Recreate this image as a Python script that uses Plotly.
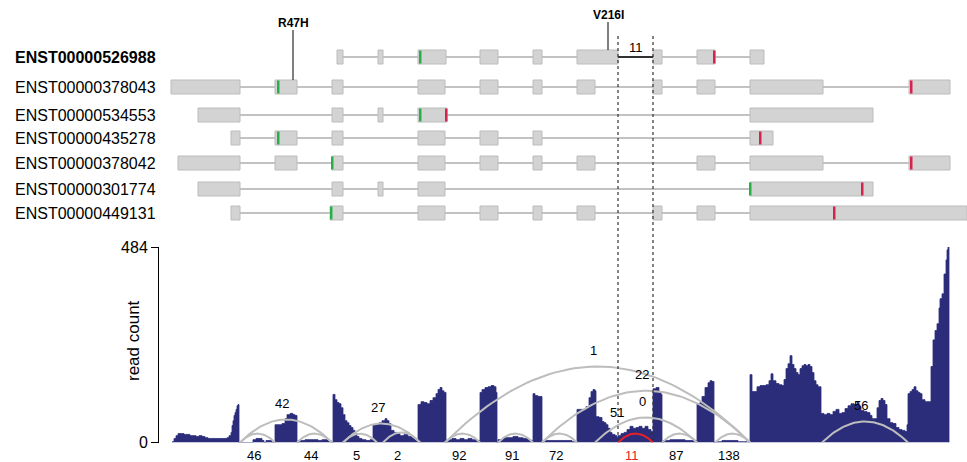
import numpy as np
import plotly.graph_objects as go

FONT = "Arial, Liberation Sans, sans-serif"

# ---------------- transcript models (genomic position units) ----------------
transcripts = ["ENST00000526988", "ENST00000378043", "ENST00000534553",
               "ENST00000435278", "ENST00000378042", "ENST00000301774",
               "ENST00000449131"]
ex_526988 = [(337, 343), (378, 383), (418, 446), (480, 498), (533, 542),
             (577, 618), (653, 662), (697, 715), (750, 764)]
ex_378043 = [(171, 240), (275, 297), (332, 343), (418, 445), (480, 498),
             (533, 542), (577, 595), (653, 662), (697, 715), (750, 823), (909, 950)]
ex_534553 = [(198, 240), (332, 343), (378, 383), (418, 447), (750, 873)]
ex_435278 = [(231, 240), (275, 297), (332, 343), (418, 445), (480, 498),
             (533, 542), (750, 773)]
ex_378042 = [(178, 240), (275, 297), (332, 343), (418, 445), (480, 498),
             (533, 542), (577, 595), (697, 715), (750, 823), (909, 950)]
ex_301774 = [(198, 240), (332, 343), (378, 383), (418, 445), (750, 873)]
ex_449131 = [(231, 240), (330, 343), (418, 445), (480, 498), (533, 542),
             (577, 595), (653, 662), (697, 715), (750, 967)]
exon_sets = [ex_526988, ex_378043, ex_534553, ex_435278, ex_378042, ex_301774, ex_449131]
start_codon = [420, 278, 420, 278, 332, 750, 331]
stop_codon = [714, 911, 446, 760, 911, 862, 834]

variants = ["R47H", "V216I"]
variant_pos = [293, 608]
variant_row = [1, 0]

junction_pos = (618, 653)
junction_label = "11"

# ---------------- coverage ----------------
cov_pos = [172, 174, 176, 178, 181, 184, 187, 190, 193, 196, 199, 202, 205, 208, 212, 216, 220, 224,
           227, 229, 231, 232, 233, 234, 235, 236, 237, 238, 239,
           253, 256, 259, 262, 264, 266, 270, 272,
           275, 279, 282, 285, 287, 290, 293, 295, 297,
           298, 305, 312, 318, 322, 328, 331,
           333, 335, 337, 339, 341, 343, 345, 347, 349, 351, 353, 355, 357, 359, 362, 366, 370,
           373, 376, 379, 382, 385, 387, 389, 391, 394, 397, 400, 404, 408, 412, 415,
           418, 421, 424, 427, 430, 433, 436, 438, 440, 442, 444, 446,
           447, 452, 456, 460, 464, 468, 472, 476,
           480, 482, 485, 488, 491, 494, 496, 497,
           498, 503, 508, 513, 518, 523, 528, 531,
           533, 535, 538, 540, 542,
           543, 550, 558, 565, 572,
           577, 580, 583, 586, 589, 591, 593, 595, 596, 599, 602, 604, 606, 608, 610, 612, 615, 617,
           618, 621, 624, 627, 630, 633, 636, 639, 642, 645, 648, 651,
           653, 656, 659, 661, 662,
           663, 670, 678, 685, 692,
           697, 700, 702, 705, 708, 710, 712, 714,
           715, 722, 730, 738, 745,
           750, 752, 755, 757, 760, 763, 766, 769, 771, 773,
           776, 779, 782, 784, 786, 788, 790, 792, 794, 796,
           798, 800, 802, 804, 806, 808, 810, 812, 814, 816,
           818, 821, 824, 827, 830, 833, 836, 839, 842, 845,
           848, 851, 854, 857, 859, 861, 864, 867, 870, 872,
           875, 877, 879, 881, 883, 885, 887, 890, 893, 896,
           899, 902, 905, 907, 908, 910, 912, 914, 916, 918,
           920, 922, 925, 928, 930, 931, 933, 935, 937, 939,
           940, 942, 944, 946, 947, 948, 949]
cov_val = [2, 10, 17, 22, 22, 20, 20, 17, 17, 15, 17, 15, 12, 10, 10, 10, 10, 10,
           12, 17, 25, 42, 54, 67, 74, 82, 91, 94, 0,
           7, 10, 10, 5, 0, 5, 5, 0,
           44, 44, 47, 59, 69, 72, 69, 67, 0,
           5, 7, 7, 5, 7, 5, 0,
           119, 106, 99, 96, 86, 69, 54, 49, 42, 37, 30, 22, 15, 10, 7, 5, 7,
           44, 47, 49, 54, 59, 54, 47, 30, 25, 22, 17, 20, 15, 12, 7,
           94, 101, 99, 96, 104, 111, 121, 131, 136, 128, 124, 0,
           7, 10, 7, 10, 7, 10, 7, 5,
           124, 131, 136, 138, 141, 138, 124, 0,
           7, 12, 12, 15, 12, 10, 7, 5,
           121, 116, 114, 114, 0,
           5, 5, 5, 5, 2,
           82, 82, 82, 89, 111, 126, 131, 128, 64, 62, 52, 49, 44, 35, 25, 20, 17, 12,
           17, 22, 25, 32, 40, 35, 37, 40, 35, 40, 32, 27,
           133, 136, 124, 119, 0,
           5, 7, 7, 5, 5,
           96, 99, 114, 136, 148, 153, 151, 0,
           2, 5, 5, 2, 2,
           168, 126, 126, 138, 141, 141, 143, 153, 170, 153,
           146, 143, 141, 156, 183, 195, 215, 193, 183, 173,
           168, 183, 190, 193, 190, 193, 188, 173, 153, 143,
           138, 72, 69, 72, 69, 77, 82, 72, 74, 84,
           91, 96, 94, 101, 89, 79, 77, 74, 67, 59,
           59, 86, 104, 109, 104, 94, 59, 49, 47, 37,
           32, 30, 27, 44, 121, 126, 131, 138, 128, 124,
           121, 106, 101, 101, 101, 188, 254, 277, 294, 333,
           356, 368, 417, 452, 477, 484, 0]
y_max = 484

# ---------------- splice junction arcs ----------------
arc_start = [240, 240, 297, 343, 343, 383, 445, 498, 445, 542, 542, 595, 662, 715, 822, 618]
arc_end = [275, 332, 332, 377, 420, 420, 480, 533, 750, 577, 750, 697, 697, 750, 908, 653]
arc_height = [22, 57, 22, 22, 47, 25, 22, 22, 188, 22, 128, 62, 22, 22, 52, 22]
arc_label = ["46", "42", "44", "5", "27", "2", "92", "91", "1", "72", "22", "0", "87", "138", "56", "11"]
arc_label_side = ["below", "above", "below", "below", "above", "below", "below", "below",
                  "above", "below", "above", "above", "below", "below", "above", "below"]
arc_highlight = [False] * 15 + [True]
extra_label = "51"
extra_label_pos = (617, 412)

# ---------------- layout constants (pixels) ----------------
W, H = 967, 462
row_y = [57, 87, 115, 138, 163, 189, 213]
half_h = 7
base_px, top_px = 442.5, 247
EXON_FILL, EXON_LINE, INTRON = "#d3d3d3", "#bcbcbc", "#c2c2c2"
GREEN, RED = "#27b04a", "#d6224f"
NAVY = "#2b2d7b"

fig = go.Figure()
shapes = []
annotations = []

# transcripts
for i, (name, exs) in enumerate(zip(transcripts, exon_sets)):
    y = row_y[i]
    shapes.append(dict(type="line", xref="x", yref="y", x0=exs[0][0], x1=exs[-1][1], y0=y, y1=y,
                       line=dict(color=INTRON, width=2), layer="below"))
    for s, e in exs:
        shapes.append(dict(type="rect", xref="x", yref="y", x0=s, x1=e, y0=y - half_h, y1=y + half_h,
                           fillcolor=EXON_FILL, line=dict(color=EXON_LINE, width=1), layer="below"))
    for pos, col in ((start_codon[i], GREEN), (stop_codon[i], RED)):
        shapes.append(dict(type="rect", xref="x", yref="y", x0=pos - 1, x1=pos + 1.5,
                           y0=y - half_h + 0.5, y1=y + half_h - 0.5, fillcolor=col, line=dict(width=0)))
    annotations.append(dict(x=13, y=y, xref="x", yref="y", text=f"<b>{name}</b>" if i == 0 else name,
                            showarrow=False, xanchor="left", yanchor="middle",
                            font=dict(family=FONT, size=16, color="black")))

# variant markers
for lab, pos, r in zip(variants, variant_pos, variant_row):
    top = row_y[r] - half_h
    stem_top = top - 28 if r == 0 else top - 50
    shapes.append(dict(type="line", xref="x", yref="y", x0=pos, x1=pos, y0=stem_top,
                       y1=top, line=dict(color="black", width=1)))
    annotations.append(dict(x=pos, y=stem_top - 7, xref="x", yref="y",
                            text=f"<b>{lab}</b>", showarrow=False, yanchor="middle",
                            font=dict(family=FONT, size=12, color="black")))

# highlighted junction in top transcript
shapes.append(dict(type="line", xref="x", yref="y", x0=junction_pos[0], x1=junction_pos[1],
                   y0=row_y[0], y1=row_y[0], line=dict(color="black", width=1.5)))
annotations.append(dict(x=sum(junction_pos) / 2, y=row_y[0] - 10, xref="x", yref="y", text=junction_label,
                        showarrow=False, font=dict(family=FONT, size=13, color="black")))
for p in junction_pos:
    shapes.append(dict(type="line", xref="x", yref="y", x0=p, x1=p, y0=36, y1=base_px,
                       line=dict(color="#333333", width=1.2, dash="3px,3px")))

# coverage
fig.add_trace(go.Scatter(x=cov_pos, y=cov_val, xaxis="x", yaxis="y2", mode="lines",
                         line=dict(color=NAVY, width=0.8, shape="hv"), fill="tozeroy",
                         fillcolor=NAVY, hoverinfo="skip", showlegend=False))

# arcs
t = np.linspace(0, 1, 60)
order = sorted(range(len(arc_start)), key=lambda k: arc_highlight[k])
for k in order:
    x0, x1, h = arc_start[k], arc_end[k], arc_height[k]
    xm = (x0 + x1) / 2
    xs = (1 - t) ** 2 * x0 + 2 * t * (1 - t) * xm + t ** 2 * x1
    ys = 2 * t * (1 - t) * 2 * h
    col = "#e8202a" if arc_highlight[k] else "#bdbdbd"
    fig.add_trace(go.Scatter(x=xs, y=ys, xaxis="x", yaxis="y2", mode="lines",
                             line=dict(color=col, width=2), hoverinfo="skip", showlegend=False))
    if arc_label_side[k] == "above":
        annotations.append(dict(x=xm, y=h, xref="x", yref="y2", text=arc_label[k], showarrow=False,
                                yshift=16, xshift=-4, font=dict(family=FONT, size=13, color="black")))
    else:
        annotations.append(dict(x=xm - 4, y=0, xref="x", yref="y2", text=arc_label[k], showarrow=False,
                                yshift=-13, font=dict(family=FONT, size=13,
                                                      color="#e8202a" if arc_highlight[k] else "black")))
annotations.append(dict(x=extra_label_pos[0], y=extra_label_pos[1], xref="x", yref="y", text=extra_label,
                        showarrow=False, font=dict(family=FONT, size=13, color="black")))

annotations.append(dict(x=133, y=341, xref="x", yref="y", text="read count", textangle=-90,
                        showarrow=False, font=dict(family=FONT, size=17, color="black")))

fig.update_layout(
    width=W, height=H, margin=dict(l=0, r=0, t=0, b=0, pad=0, autoexpand=False),
    paper_bgcolor="white", plot_bgcolor="white",
    xaxis=dict(range=[0, W], visible=False, domain=[0, 1]),
    yaxis=dict(range=[H, 0], visible=False, domain=[0, 1]),
    yaxis2=dict(range=[0, y_max], domain=[(H - base_px) / H, (H - top_px) / H], anchor="free",
                position=158 / W, showline=True, linecolor="black", linewidth=1,
                ticks="outside", ticklen=7, tickcolor="black", tickvals=[0, y_max],
                ticktext=["0", str(y_max)], showgrid=False, zeroline=False, automargin=False,
                tickfont=dict(family=FONT, size=16, color="black")),
    shapes=shapes, annotations=annotations, showlegend=False,
)
fig.write_html("out.html", config={"displayModeBar": False},
               post_script="document.body.style.margin='0';document.body.style.overflow='hidden';")
